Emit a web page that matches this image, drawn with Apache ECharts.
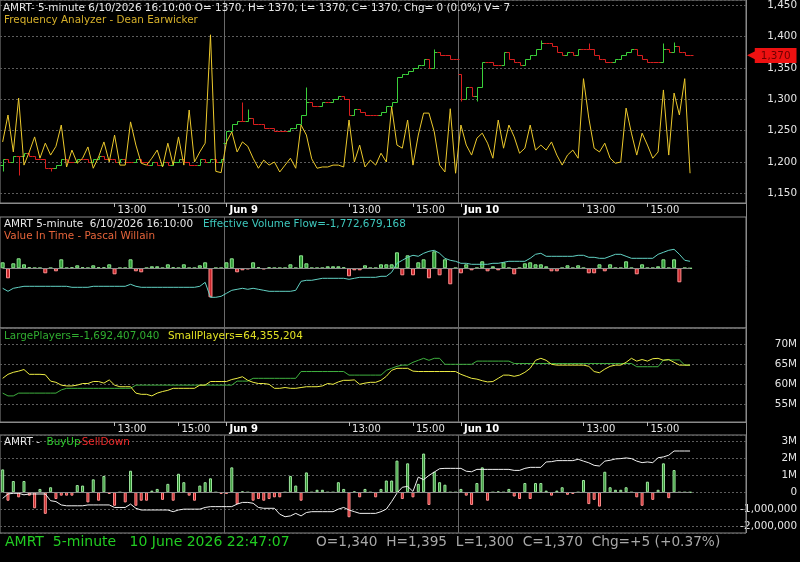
<!DOCTYPE html>
<html>
<head>
<meta charset="utf-8">
<title>AMRT 5-minute</title>
<script src="https://cdn.jsdelivr.net/npm/echarts@6/dist/echarts.min.js"></script>
<style>
  html, body { margin: 0; padding: 0; background: #000; }
  #chart { width: 800px; height: 562px; }
</style>
</head>
<body>
<div id="chart"></div>
<script>
const FONT = '"DejaVu Sans", Verdana, sans-serif'
const slotCount = 140
const dayStarts = [42, 86]
const tickLabels = {21: '13:00', 33: '15:00', 42: 'Jun 9', 65: '13:00', 77: '15:00', 86: 'Jun 10', 109: '13:00', 121: '15:00'}

// price bars (10-minute slots), open = previous close unless a session open is given
const closes = [
  1205, 1200, 1210, 1210, 1215, 1210, 1205, 1205, 1190, 1190,
  1195, 1205, 1200, 1200, 1205, 1205, 1200, 1205, 1210, 1205,
  1205, 1200, 1205, 1200, 1200, 1205, 1200, 1195, 1200, 1195,
  1200, 1195, 1200, 1205, 1200, 1195, 1195, 1205, 1200, 1205,
  1200, 1205, 1250, 1260, 1265, 1265, 1270, 1260, 1260, 1255,
  1255, 1250, 1250, 1250, 1255, 1260, 1275, 1295, 1290, 1290,
  1295, 1295, 1300, 1305, 1300, 1275, 1285, 1280, 1275, 1275,
  1275, 1280, 1290, 1295, 1335, 1340, 1345, 1350, 1355, 1365,
  1350, 1375, 1370, 1370, 1365, 1365, 1300, 1320, 1305, 1320,
  1360, 1360, 1355, 1355, 1375, 1365, 1360, 1355, 1365, 1370,
  1380, 1390, 1390, 1385, 1375, 1370, 1375, 1370, 1380, 1380,
  1380, 1370, 1365, 1360, 1360, 1365, 1370, 1375, 1380, 1370,
  1365, 1360, 1360, 1360, 1380, 1375, 1385, 1375, 1370, 1370
]
const sessionOpens = {0: 1195, 42: 1230, 86: 1340}
const highs = {45: 1295, 46: 1285, 57: 1320, 81: 1380, 101: 1395, 110: 1390, 124: 1390, 126: 1392}
const lows = {0: 1185, 3: 1180, 9: 1185, 86: 1298, 89: 1298}
const lastPrice = 1370

// Frequency Analyzer (price scale)
const freq = [
  1232, 1275, 1216, 1302, 1195, 1216, 1240, 1206, 1230, 1211,
  1225, 1259, 1192, 1219, 1198, 1206, 1224, 1190, 1208, 1232,
  1200, 1243, 1195, 1195, 1264, 1227, 1198, 1195, 1206, 1219,
  1192, 1230, 1195, 1240, 1195, 1283, 1200, 1216, 1230, 1403,
  1185, 1183, 1232, 1248, 1216, 1232, 1225, 1206, 1190, 1203,
  1195, 1200, 1184, 1195, 1206, 1190, 1259, 1243, 1205, 1190,
  1192, 1192, 1195, 1195, 1192, 1267, 1200, 1227, 1192, 1203,
  1195, 1214, 1200, 1288, 1227, 1222, 1267, 1195, 1243, 1278,
  1278, 1248, 1195, 1184, 1285, 1182, 1259, 1227, 1211, 1238,
  1246, 1230, 1206, 1267, 1222, 1259, 1240, 1214, 1222, 1259,
  1219, 1227, 1219, 1232, 1211, 1195, 1211, 1219, 1206, 1333,
  1270, 1222, 1216, 1230, 1206, 1198, 1200, 1286, 1246, 1211,
  1246, 1227, 1206, 1216, 1315, 1211, 1310, 1275, 1333, 1182
]

// Value In Time histogram and Effective Volume Flow line (relative units)
const vitBars = [
  6, -10, 5, 10, 4, 1, 0.5, 0.5, -5, 0.5,
  -3, 9, 0.5, 1, 3, 1, 0.5, 3, 1, 1,
  4, -6, 0.5, 0.5, 9, -3, -4, 0.5, 2, 2,
  0.5, 4, 1, 0.5, 4, 0.5, 0.5, 3, 6, -29,
  0.5, 0.5, 6, 10, -4, -2, -1, 6, 1, -1,
  1, 0.5, 0.5, 0.5, 4, 0.5, 13, 5, 0.5, 0.5,
  0.5, 2, 2, 2, 1, -8, -2, -2, 3, 0.5,
  0.5, 4, 4, 4, 16, -7, 13, -7, 6, 9,
  -10, 17, -7, 9, -16, 0.5, -5, 4, -2, 0.5,
  7, -3, 2, -2, 6, 0.5, -6, 0.5, 5, 6,
  4, 4, 2, -3, -3, 0.5, 3, 0.5, 3, 0.5,
  -5, -5, 4, -3, 4, 0.5, 0.5, 7, 0.5, -6,
  4, 0.5, 0.5, 2, 9, 0.5, 9, -14, 0.5, 0
]
const evfLine = [
  -20, -23, -20, -19, -18, -18, -18, -18, -18, -18,
  -18, -18, -18, -19, -19, -19, -19, -18, -18, -18,
  -18, -18, -18, -18, -16, -18, -19, -19, -19, -19,
  -19, -19, -19, -19, -19, -19, -19, -18, -14, -29,
  -29, -28, -25, -22, -21, -20, -21, -20, -21, -22,
  -23, -23, -23, -23, -23, -22, -13, -12, -12, -11,
  -10, -10, -10, -10, -10, -11, -10, -9, -9, -9,
  -9, -8, -8, -4, 5, 8, 11, 13, 12, 15,
  17, 18, 15, 10, 8, 7, 5, 5, 4, 4,
  4, 4, 5, 5, 6, 7, 7, 7, 7, 10,
  14, 15, 12, 12, 12, 12, 12, 12, 13, 13,
  11, 11, 10, 10, 12, 14, 14, 12, 10, 10,
  10, 10, 10, 14, 16, 18, 19, 14, 8, 7
]

// Large / Small players, millions
const largePlayers = [
  57.8, 57.1, 57.1, 57.8, 57.8, 57.8, 57.8, 57.8, 57.8, 57.8,
  57.8, 58.6, 59.0, 59.0, 59.0, 59.0, 59.0, 59.0, 59.0, 59.0,
  59.0, 59.0, 59.0, 59.0, 59.0, 59.8, 59.8, 59.8, 59.8, 59.8,
  59.8, 59.8, 59.8, 59.8, 59.8, 59.8, 59.8, 59.8, 59.8, 59.8,
  59.8, 59.8, 59.8, 59.8, 60.8, 60.8, 60.8, 61.5, 61.5, 61.5,
  61.5, 61.5, 61.5, 61.5, 61.5, 61.5, 63.2, 63.2, 63.2, 63.2,
  63.2, 63.2, 63.2, 63.2, 63.2, 62.3, 62.3, 62.3, 62.3, 62.3,
  62.3, 62.3, 63.5, 64.0, 64.5, 64.8, 64.8, 65.5, 66.0, 66.5,
  66.0, 66.5, 66.5, 65.0, 65.0, 65.0, 65.0, 65.0, 65.0, 65.8,
  65.8, 65.8, 65.8, 65.8, 65.8, 65.8, 65.2, 65.2, 65.2, 65.2,
  65.2, 65.2, 65.2, 65.2, 65.2, 65.2, 65.2, 65.2, 65.2, 65.2,
  65.2, 65.2, 65.2, 65.2, 65.2, 65.2, 65.2, 65.2, 65.2, 64.4,
  64.4, 64.4, 64.4, 64.4, 66.1, 66.1, 66.1, 66.1, 64.8, 64.8
]
const smallPlayers = [
  61.5, 62.5, 63.0, 63.3, 63.7, 62.5, 62.5, 62.5, 62.4, 60.8,
  60.5, 59.8, 59.6, 59.6, 59.8, 60.2, 60.2, 60.7, 60.7, 60.3,
  61.1, 59.8, 59.4, 59.4, 59.4, 57.8, 57.5, 57.5, 57.1, 57.8,
  58.2, 58.5, 59.0, 59.0, 59.0, 59.0, 59.0, 59.8, 59.8, 60.7,
  60.7, 60.7, 60.7, 61.2, 61.5, 61.9, 61.0, 60.5, 60.2, 60.2,
  60.0, 59.0, 59.0, 59.2, 59.0, 59.0, 59.2, 59.4, 59.4, 59.4,
  59.6, 60.2, 60.0, 60.6, 61.0, 61.0, 61.1, 60.0, 60.3, 60.5,
  60.5, 61.0, 62.0, 63.5, 64.0, 64.0, 64.0, 63.3, 63.2, 63.2,
  63.2, 63.2, 63.2, 63.2, 63.2, 63.2, 62.5, 62.0, 61.5, 61.3,
  60.9, 60.6, 60.7, 61.5, 62.3, 62.3, 62.0, 62.3, 63.0, 64.0,
  66.0, 66.5, 66.0, 65.0, 64.8, 64.8, 64.8, 64.8, 64.8, 64.8,
  64.5, 63.2, 62.9, 63.8, 64.5, 64.8, 64.8, 65.5, 66.5, 65.8,
  66.2, 65.8, 66.4, 66.5, 66.0, 66.2, 65.5, 64.8, 64.8, 64.8
]

// BuyUp - SellDown histogram and cumulative line, millions
const buySell = [
  1.36, -0.5, 0.67, -0.3, 0.67, -0.2, -0.95, 0.2, -1.28, 0.3,
  -0.4, -0.2, -0.2, -0.2, 0.43, 0.4, -0.6, 0.77, -0.5, 0.97,
  -0.1, -0.8, 0, -0.6, 1.28, -0.8, -0.5, -0.5, 0.1, 0.2,
  -0.45, 0.5, -0.5, 1.1, 0.6, -0.2, -0.5, 0.4, 0.6, 0.83,
  0, -0.1, -0.1, 1.48, -0.7, 0.05, 0, -0.5, -0.4, -0.5,
  -0.4, -0.3, -0.3, 0, 0.97, 0.4, -0.5, 1.18, 0, 0.15,
  0.15, 0, 0, 0.6, 0.2, -1.48, 0.05, -0.3, 0.2, 0,
  -0.3, 0.2, 0.7, 0.7, 1.88, -0.4, 1.72, -0.3, 0.5, 2.3,
  -0.75, 1.22, 0.6, 0.45, 0, 0, 0.2, -0.2, -0.75, 0.55,
  1.48, -0.5, 0, 0.05, 0, 0.2, -0.25, -0.4, 0.55, -0.4,
  0.55, 0.55, 0.1, -0.2, 0.1, 0.3, -0.15, -0.1, 0, 0.73,
  -0.7, -0.45, -0.85, 1.22, 0.3, 0.15, 0.15, 0.3, 0, -0.3,
  -0.8, 0.63, -0.45, 0.15, 1.72, -0.35, 1.32, 0, 0, 0
]
const buySellLine = [
  -0.36, -0.1, -0.06, -0.06, -0.15, -0.1, -0.1, -0.1, -0.1, -0.5,
  -0.55, -0.75, -0.8, -0.8, -0.8, -0.8, -0.75, -0.75, -0.75, -0.75,
  -0.75, -0.9, -0.9, -0.9, -0.7, -0.95, -1.05, -1.05, -1.05, -1.05,
  -1.05, -1.05, -1.15, -1.05, -1.0, -1.0, -1.0, -1.0, -0.9, -0.85,
  -0.85, -0.85, -0.85, -0.85, -0.7, -0.6, -0.6, -0.65, -0.9, -0.95,
  -0.95, -0.95, -1.3, -1.45, -1.4, -1.25, -1.4, -1.2, -1.15, -1.15,
  -1.15, -1.15, -1.15, -1.0, -0.9, -1.05, -1.15, -1.25, -1.25, -1.25,
  -1.25, -1.15, -1.0, -0.55, -0.05, 0.3, 0.35, 0.05, 0.9, 0.75,
  1.0, 1.2, 1.4, 1.42, 1.42, 1.42, 1.42, 1.25, 1.22, 1.36,
  1.36, 1.36, 1.36, 1.36, 1.36, 1.36, 1.3, 1.3, 1.42, 1.48,
  1.48, 1.48, 1.8, 1.82, 1.88, 1.88, 1.88, 1.88, 1.96, 1.85,
  1.75, 1.6, 1.56, 1.85, 1.9, 1.98, 2.0, 2.04, 2.0, 1.85,
  1.76, 1.8, 1.76, 2.05, 2.1, 2.2, 2.45, 2.45, 2.45, 2.45
]

const upColor = '#3ad13a', downColor = '#d91e1e'
const grey = '#8a8a8a', labelColor = '#e4e4e4'

let categories = []
for (let i = 0; i < slotCount; i++) categories.push(String(i))

let ohlc = closes.map((c, i) => {
  const o = sessionOpens[i] !== undefined ? sessionOpens[i] : closes[i - 1]
  const h = highs[i] !== undefined ? highs[i] : Math.max(o, c)
  const l = lows[i] !== undefined ? lows[i] : Math.min(o, c)
  return [i, o, c, l, h]
})

function histData(vals, up, down) {
  return vals.map(v => ({value: v, itemStyle: v >= 0 ? up : down}))
}

function renderOhlc(params, api) {
  const i = api.value(0), o = api.value(1), c = api.value(2)
  const px = v => Math.round(api.coord([i, v])[1]) + 0.5
  const x = Math.round(api.coord([i, c])[0]) + 0.5
  const half = Math.round(api.size([1, 0])[0] / 2)
  const style = {stroke: c > o ? upColor : downColor, lineWidth: 1}
  return {
    type: 'group',
    children: [
      {type: 'line', shape: {x1: x, y1: px(api.value(4)), x2: x, y2: px(api.value(3))}, style: style},
      {type: 'line', shape: {x1: x - half, y1: px(o), x2: x, y2: px(o)}, style: style},
      {type: 'line', shape: {x1: x, y1: px(c), x2: x + half, y2: px(c)}, style: style}
    ]
  }
}

const isTick = (index) => tickLabels[index] !== undefined

function makeX(gridIndex, withLabels) {
  return {
    type: 'category', gridIndex: gridIndex, data: categories, boundaryGap: true,
    axisLine: {show: withLabels, lineStyle: {color: grey}},
    axisTick: {show: withLabels, interval: isTick, alignWithLabel: true, length: 4, lineStyle: {color: '#bbbbbb'}},
    axisLabel: {
      show: withLabels, interval: isTick, align: 'left', margin: 2, padding: [0, 0, 0, 3],
      color: labelColor, fontSize: 10, fontFamily: FONT,
      formatter: (v, i) => {
        const t = tickLabels[i] || ''
        return t.indexOf('Jun') === 0 ? '{d|' + t + '}' : t
      },
      rich: {d: {fontWeight: 'bold', color: '#ffffff', fontSize: 10, fontFamily: FONT}}
    },
    splitLine: {show: true, interval: (i) => dayStarts.indexOf(i) >= 0, lineStyle: {color: '#6a6a6a', width: 1}}
  }
}

function makeY(gridIndex, min, max, fmt) {
  return {
    type: 'value', gridIndex: gridIndex, position: 'right', min: min, max: max, show: !!fmt,
    axisLine: {show: false}, axisTick: {show: false},
    axisLabel: {
      show: !!fmt, formatter: fmt, showMinLabel: false, showMaxLabel: false,
      align: 'right', margin: 51, color: labelColor, fontSize: 10.4, fontFamily: FONT
    },
    splitLine: {show: !!fmt, lineStyle: {color: '#5c5c5c', type: [2, 2]}}
  }
}

function text(str, x, y, color, size) {
  return {
    type: 'text', x: x, y: y, z: 100,
    style: {text: str, fill: color, font: (size || 10.4) + 'px ' + FONT, verticalAlign: 'middle', textVerticalAlign: 'middle'}
  }
}

const zeroLine = {
  silent: true, symbol: 'none', label: {show: false},
  lineStyle: {color: grey, type: 'solid', width: 1},
  data: [[{coord: [0, 0]}, {coord: [closes.length - 1, 0]}]]
}

const gridBase = {left: 0, right: 54, show: true, borderColor: grey, borderWidth: 1, outerBoundsMode: 'none'}

let option = {
  backgroundColor: '#000000',
  animation: false,
  textStyle: {fontFamily: FONT},
  grid: [
    Object.assign({top: 0, height: 203}, gridBase),
    Object.assign({top: 217, height: 111}, gridBase),
    Object.assign({top: 328, height: 94}, gridBase),
    Object.assign({top: 435, height: 98}, gridBase)
  ],
  xAxis: [makeX(0, true), makeX(1, false), makeX(2, true), makeX(3, false)],
  yAxis: [
    makeY(0, 1134.5, 1458.6, v => v.toLocaleString('en-US')),
    makeY(1, -59.7, 51.3, null),
    makeY(2, 50.58, 74.08, v => v + 'M'),
    makeY(3, -2.415, 3.40, v => v > 0 ? v + 'M' : v === 0 ? '0' : (v * 1e6).toLocaleString('en-US'))
  ],
  graphic: [
    text('AMRT- 5-minute 6/10/2026 16:10:00 O= 1370, H= 1370, L= 1370, C= 1370, Chg= 0 (0.0%) V= 7', 3, 8, '#e8e8e8'),
    text('Frequency Analyzer - Dean Earwicker', 4, 20, '#d6b02a'),
    text('AMRT 5-minute  6/10/2026 16:10:00', 4, 224.5, '#e8e8e8'),
    text('Effective Volume Flow=-1,772,679,168', 203, 224.5, '#3ec8bd'),
    text('Value In Time - Pascal Willain', 4, 236.5, '#e5643a'),
    text('LargePlayers=-1,692,407,040', 4, 336, '#30ad30'),
    text('SmallPlayers=64,355,204', 168, 336, '#e2e224'),
    text('AMRT - ', 4, 442, '#e8e8e8'),
    text('BuyUp', 46.5, 442, '#2fcc2f'),
    text('-SellDown', 78, 442, '#ee2a2a'),
    text('AMRT  5-minute   10 June 2026 22:47:07', 5, 542.5, '#22cc22', 14),
    text('O=1,340  H=1,395  L=1,300  C=1,370  Chg=+5 (+0.37%)', 316, 542.5, '#a8a8a8', 13.7),
    {type: 'line', z: 50, shape: {x1: 746.5, y1: 0, x2: 746.5, y2: 533}, style: {stroke: grey, lineWidth: 1}}
  ],
  series: [
    {
      name: 'AMRT', type: 'custom', xAxisIndex: 0, yAxisIndex: 0,
      dimensions: ['slot', 'open', 'close', 'low', 'high'],
      encode: {x: 0, y: [1, 2, 3, 4]},
      data: ohlc, renderItem: renderOhlc, z: 3
    },
    {
      name: 'Frequency Analyzer', type: 'line', xAxisIndex: 0, yAxisIndex: 0, data: freq, clip: false,
      symbol: 'none', lineStyle: {color: '#ecc92c', width: 1}, itemStyle: {color: '#ecc92c'}, z: 4,
      markLine: {
        silent: true, symbol: 'none',
        lineStyle: {color: 'rgba(0,0,0,0)', width: 0, opacity: 1},
        data: [{yAxis: lastPrice}],
        label: {
          show: true, position: 'end', distance: 1, opacity: 1,
          formatter: '{a|\u25C0}{b|' + lastPrice.toLocaleString('en-US') + '}',
          rich: {
            a: {color: '#ee1111', fontSize: 14, fontFamily: FONT, padding: [0, -3, 0, 0]},
            b: {backgroundColor: '#ee1111', color: '#6e0000', fontSize: 10.4, fontFamily: FONT, padding: [3, 6, 2, 6]}
          }
        }
      }
    },
    {
      name: 'Value In Time', type: 'bar', xAxisIndex: 1, yAxisIndex: 1, barWidth: 4,
      data: histData(vitBars,
        {color: '#2e9a35', borderColor: '#8fe38f', borderWidth: 1},
        {color: '#c8262b', borderColor: '#ff8f8f', borderWidth: 1}),
      markLine: zeroLine
    },
    {
      name: 'Effective Volume Flow', type: 'line', xAxisIndex: 1, yAxisIndex: 1, data: evfLine,
      symbol: 'none', lineStyle: {color: '#62d2c4', width: 1}, itemStyle: {color: '#62d2c4'}
    },
    {
      name: 'LargePlayers', type: 'line', xAxisIndex: 2, yAxisIndex: 2, data: largePlayers,
      symbol: 'none', lineStyle: {color: '#3fb03f', width: 1}, itemStyle: {color: '#3fb03f'}
    },
    {
      name: 'SmallPlayers', type: 'line', xAxisIndex: 2, yAxisIndex: 2, data: smallPlayers,
      symbol: 'none', lineStyle: {color: '#eeee44', width: 1}, itemStyle: {color: '#eeee44'}
    },
    {
      name: 'BuyUp-SellDown', type: 'bar', xAxisIndex: 3, yAxisIndex: 3, barWidth: 3,
      data: histData(buySell,
        {color: '#2a8c2a', borderColor: '#a0e8a0', borderWidth: 1},
        {color: '#c42020', borderColor: '#ff9090', borderWidth: 1}),
      markLine: zeroLine
    },
    {
      name: 'Cumulative', type: 'line', xAxisIndex: 3, yAxisIndex: 3, data: buySellLine,
      symbol: 'none', lineStyle: {color: '#f2f2f2', width: 1}, itemStyle: {color: '#f2f2f2'}
    }
  ]
}

let chartsInstance = echarts.init(document.getElementById('chart'))
chartsInstance.setOption(option)
window.addEventListener('resize', () => chartsInstance.resize())
</script>
</body>
</html>
